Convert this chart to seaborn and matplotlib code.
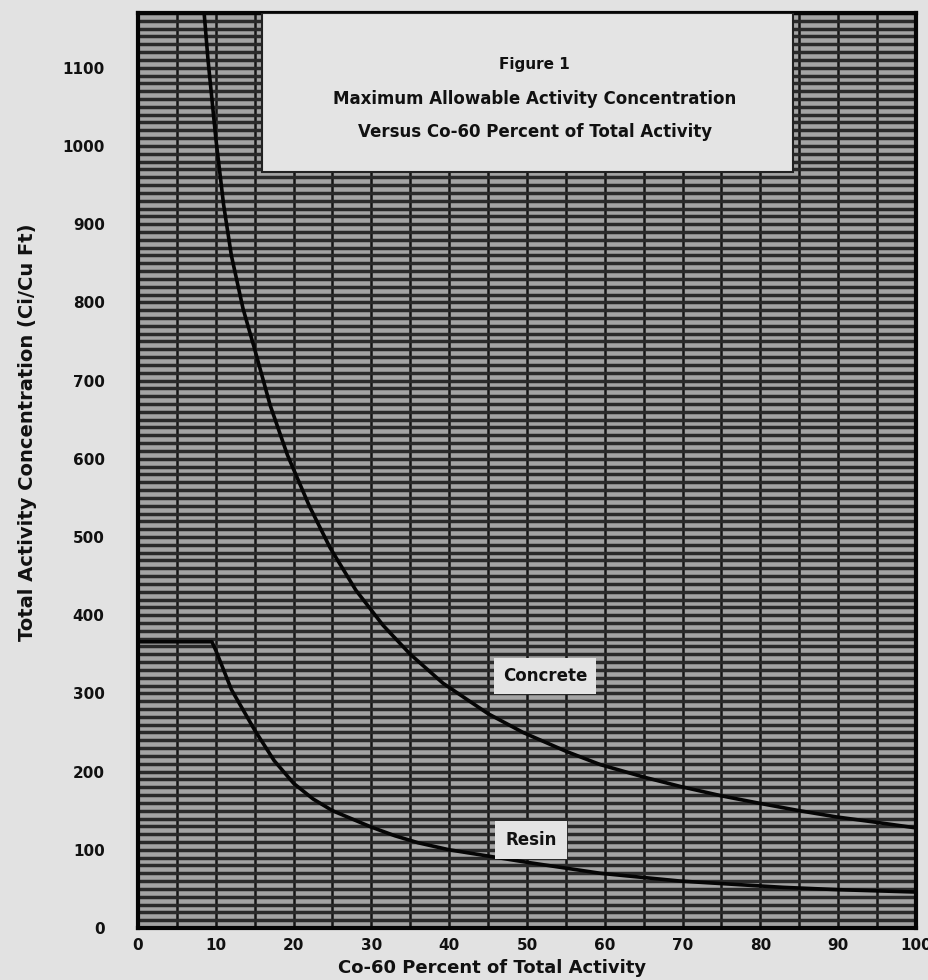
import numpy as np
import pandas as pd
import matplotlib
matplotlib.use("Agg")
import matplotlib.pyplot as plt
import seaborn as sns
from matplotlib.patches import Rectangle

# Co-60 fraction of total activity (%) and allowable concentration (Ci/Cu Ft)
concrete_x = [0, 8.5, 9.0, 10, 11, 12, 13.5, 15, 17, 19.2, 22, 24.7, 28,
              31.5, 35, 39.2, 45, 49.5, 55, 59.4, 65, 69.7, 75, 79.6, 85, 89.8, 95, 100]
concrete_y = [1170, 1170, 1110, 1010, 925, 860, 792, 740, 668, 605, 540, 486, 432,
              387, 350, 313, 274, 250, 226, 209, 193, 181, 169, 160, 150, 142, 135, 128]

resin_x = [0, 9.5, 10, 12, 15, 17.5, 20, 22.5, 25, 30, 33, 36, 40, 45, 50,
           59.4, 69.7, 82.9, 90, 100]
resin_y = [366, 366, 355, 305, 253, 214, 185, 165, 150, 129, 118, 109, 100, 92, 84,
           70, 60, 52, 49, 46]

x_ticks = [0, 10, 20, 30, 40, 50, 60, 70, 80, 90, 100]
y_ticks = [0, 100, 200, 300, 400, 500, 600, 700, 800, 900, 1000, 1100]

title_lines = ["Figure 1",
               "Maximum Allowable Activity Concentration",
               "Versus Co-60 Percent of Total Activity"]

df = pd.concat([
    pd.DataFrame({"pct": concrete_x, "conc": concrete_y, "waste": "Concrete"}),
    pd.DataFrame({"pct": resin_x, "conc": resin_y, "waste": "Resin"}),
])

sns.set_theme(style="white")
plt.rcParams["font.family"] = ["DejaVu Sans"]

paper = "#e2e2e2"
ink = "#111111"
fig = plt.figure(figsize=(9.29, 9.80), dpi=100, facecolor=paper)
ax = fig.add_axes([138 / 929, 1 - 928 / 980, (916 - 138) / 929, (928 - 13) / 980])
ax.set_facecolor("#a4a4a4")

# graph-paper rulings
ax.set_xlim(0, 100)
ax.set_ylim(0, 1170)
ax.set_xticks(x_ticks)
ax.set_yticks(y_ticks)
ax.set_xticks(np.arange(0, 101, 5), minor=True)
ax.set_yticks(np.arange(0, 1171, 10), minor=True)
ax.grid(which="both", axis="x", color="#141414", linewidth=1.8)
ax.grid(which="both", axis="y", color="#2a2a2a", linewidth=2.5)
ax.set_axisbelow(True)
ax.tick_params(which="both", length=0)
ax.tick_params(axis="x", pad=7, labelsize=11)
ax.tick_params(axis="y", pad=24, labelsize=11)
for lab in ax.get_xticklabels() + ax.get_yticklabels():
    lab.set_fontweight("bold")
    lab.set_color(ink)
for s in ax.spines.values():
    s.set_color("#050505")
    s.set_linewidth(3)

sns.lineplot(data=df, x="pct", y="conc", units="waste", estimator=None,
             sort=False, color="#050505", linewidth=2.6, ax=ax, zorder=5)
ax.set_xlabel("")
ax.set_ylabel("")

# title box
ax.add_patch(Rectangle((15.9, 967), 68.3, 203, facecolor="#e4e4e4",
                       edgecolor="#222222", linewidth=1.5, zorder=6))
title_y = [1104, 1060, 1018]
title_size = [11, 12, 12]
for line, ty, fs in zip(title_lines, title_y, title_size):
    ax.text(51.0, ty, line, ha="center", va="center",
            fontsize=fs, fontweight="bold", color=ink, zorder=7)

# curve labels
ax.text(52.3, 322, "Concrete", ha="center", va="center", fontsize=12,
        fontweight="bold", color=ink, zorder=7,
        bbox=dict(boxstyle="square,pad=0.55", facecolor="#e4e4e4", edgecolor="none"))
ax.text(50.5, 112, "Resin", ha="center", va="center", fontsize=12,
        fontweight="bold", color=ink, zorder=7,
        bbox=dict(boxstyle="square,pad=0.6", facecolor="#e4e4e4", edgecolor="none"))

fig.text(492 / 929, 1 - 968 / 980, "Co-60 Percent of Total Activity",
         ha="center", va="center", fontsize=13, fontweight="bold", color=ink)
fig.text(28 / 929, 1 - 432 / 980, "Total Activity Concentration (Ci/Cu Ft)",
         ha="center", va="center", rotation=90, fontsize=14, fontweight="bold",
         color=ink)

fig.savefig("out.png", dpi=100, facecolor=paper)
